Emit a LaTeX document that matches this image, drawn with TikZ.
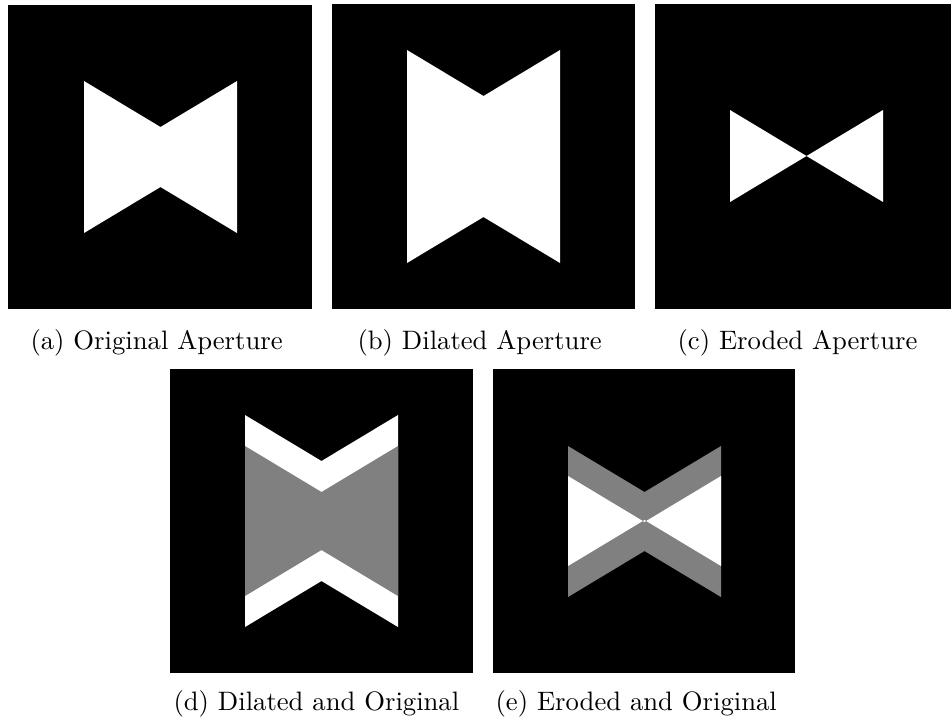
\documentclass[tikz,border=0pt]{standalone}
\usepackage{tikz}
\usetikzlibrary{positioning}
% one unit = one pixel of the 951x719 figure
\tikzset{
    panel/.style={fill=black},
    hole/.style={fill=white},
    overlap/.style={fill=black!50},
    caption/.style={anchor=base west, inner sep=0pt, font=\normalsize},
}
% aperture: style, centre x, top corner y, bottom corner y
\newcommand{\aperture}[4]{%
    \fill[#1] (#2-76.5,#3) -- (#2,#3+46) -- (#2+76.5,#3)
        -- (#2+76.5,#4) -- (#2,#4-46) -- (#2-76.5,#4) -- cycle;}

\begin{document}
\begin{tikzpicture}[x=0.375pt, y=-0.375pt]
    \useasboundingbox (0,0) rectangle (951,719);
    % top row
    \fill[panel] (8,5) rectangle (312,309);
    \aperture{hole}{160.5}{81}{233}
    \fill[panel] (332,4) rectangle (635,309);
    \aperture{hole}{483.5}{50}{263}
    \fill[panel] (655,4) rectangle (951,309);
    \aperture{hole}{806.5}{110}{202}
    % bottom row
    \fill[panel] (170,369) rectangle (473,673);
    \aperture{hole}{321.5}{415}{627}
    \aperture{overlap}{321.5}{446}{596}
    \fill[panel] (493,369) rectangle (795,673);
    \aperture{overlap}{644.5}{446}{597}
    \aperture{hole}{644.5}{476}{566}
    % captions
    \node[caption] (capA) at (30,349) {(a) Original Aperture};
    \node[caption] (capB) at (357,349) {(b) Dilated Aperture};
    \node[caption] (capC) at (677,349) {(c) Eroded Aperture};
    \node[caption] (capD) at (173,710) {(d) Dilated and Original};
    \node[caption] (capE) at (495,710) {(e) Eroded and Original};
\end{tikzpicture}
\end{document}
